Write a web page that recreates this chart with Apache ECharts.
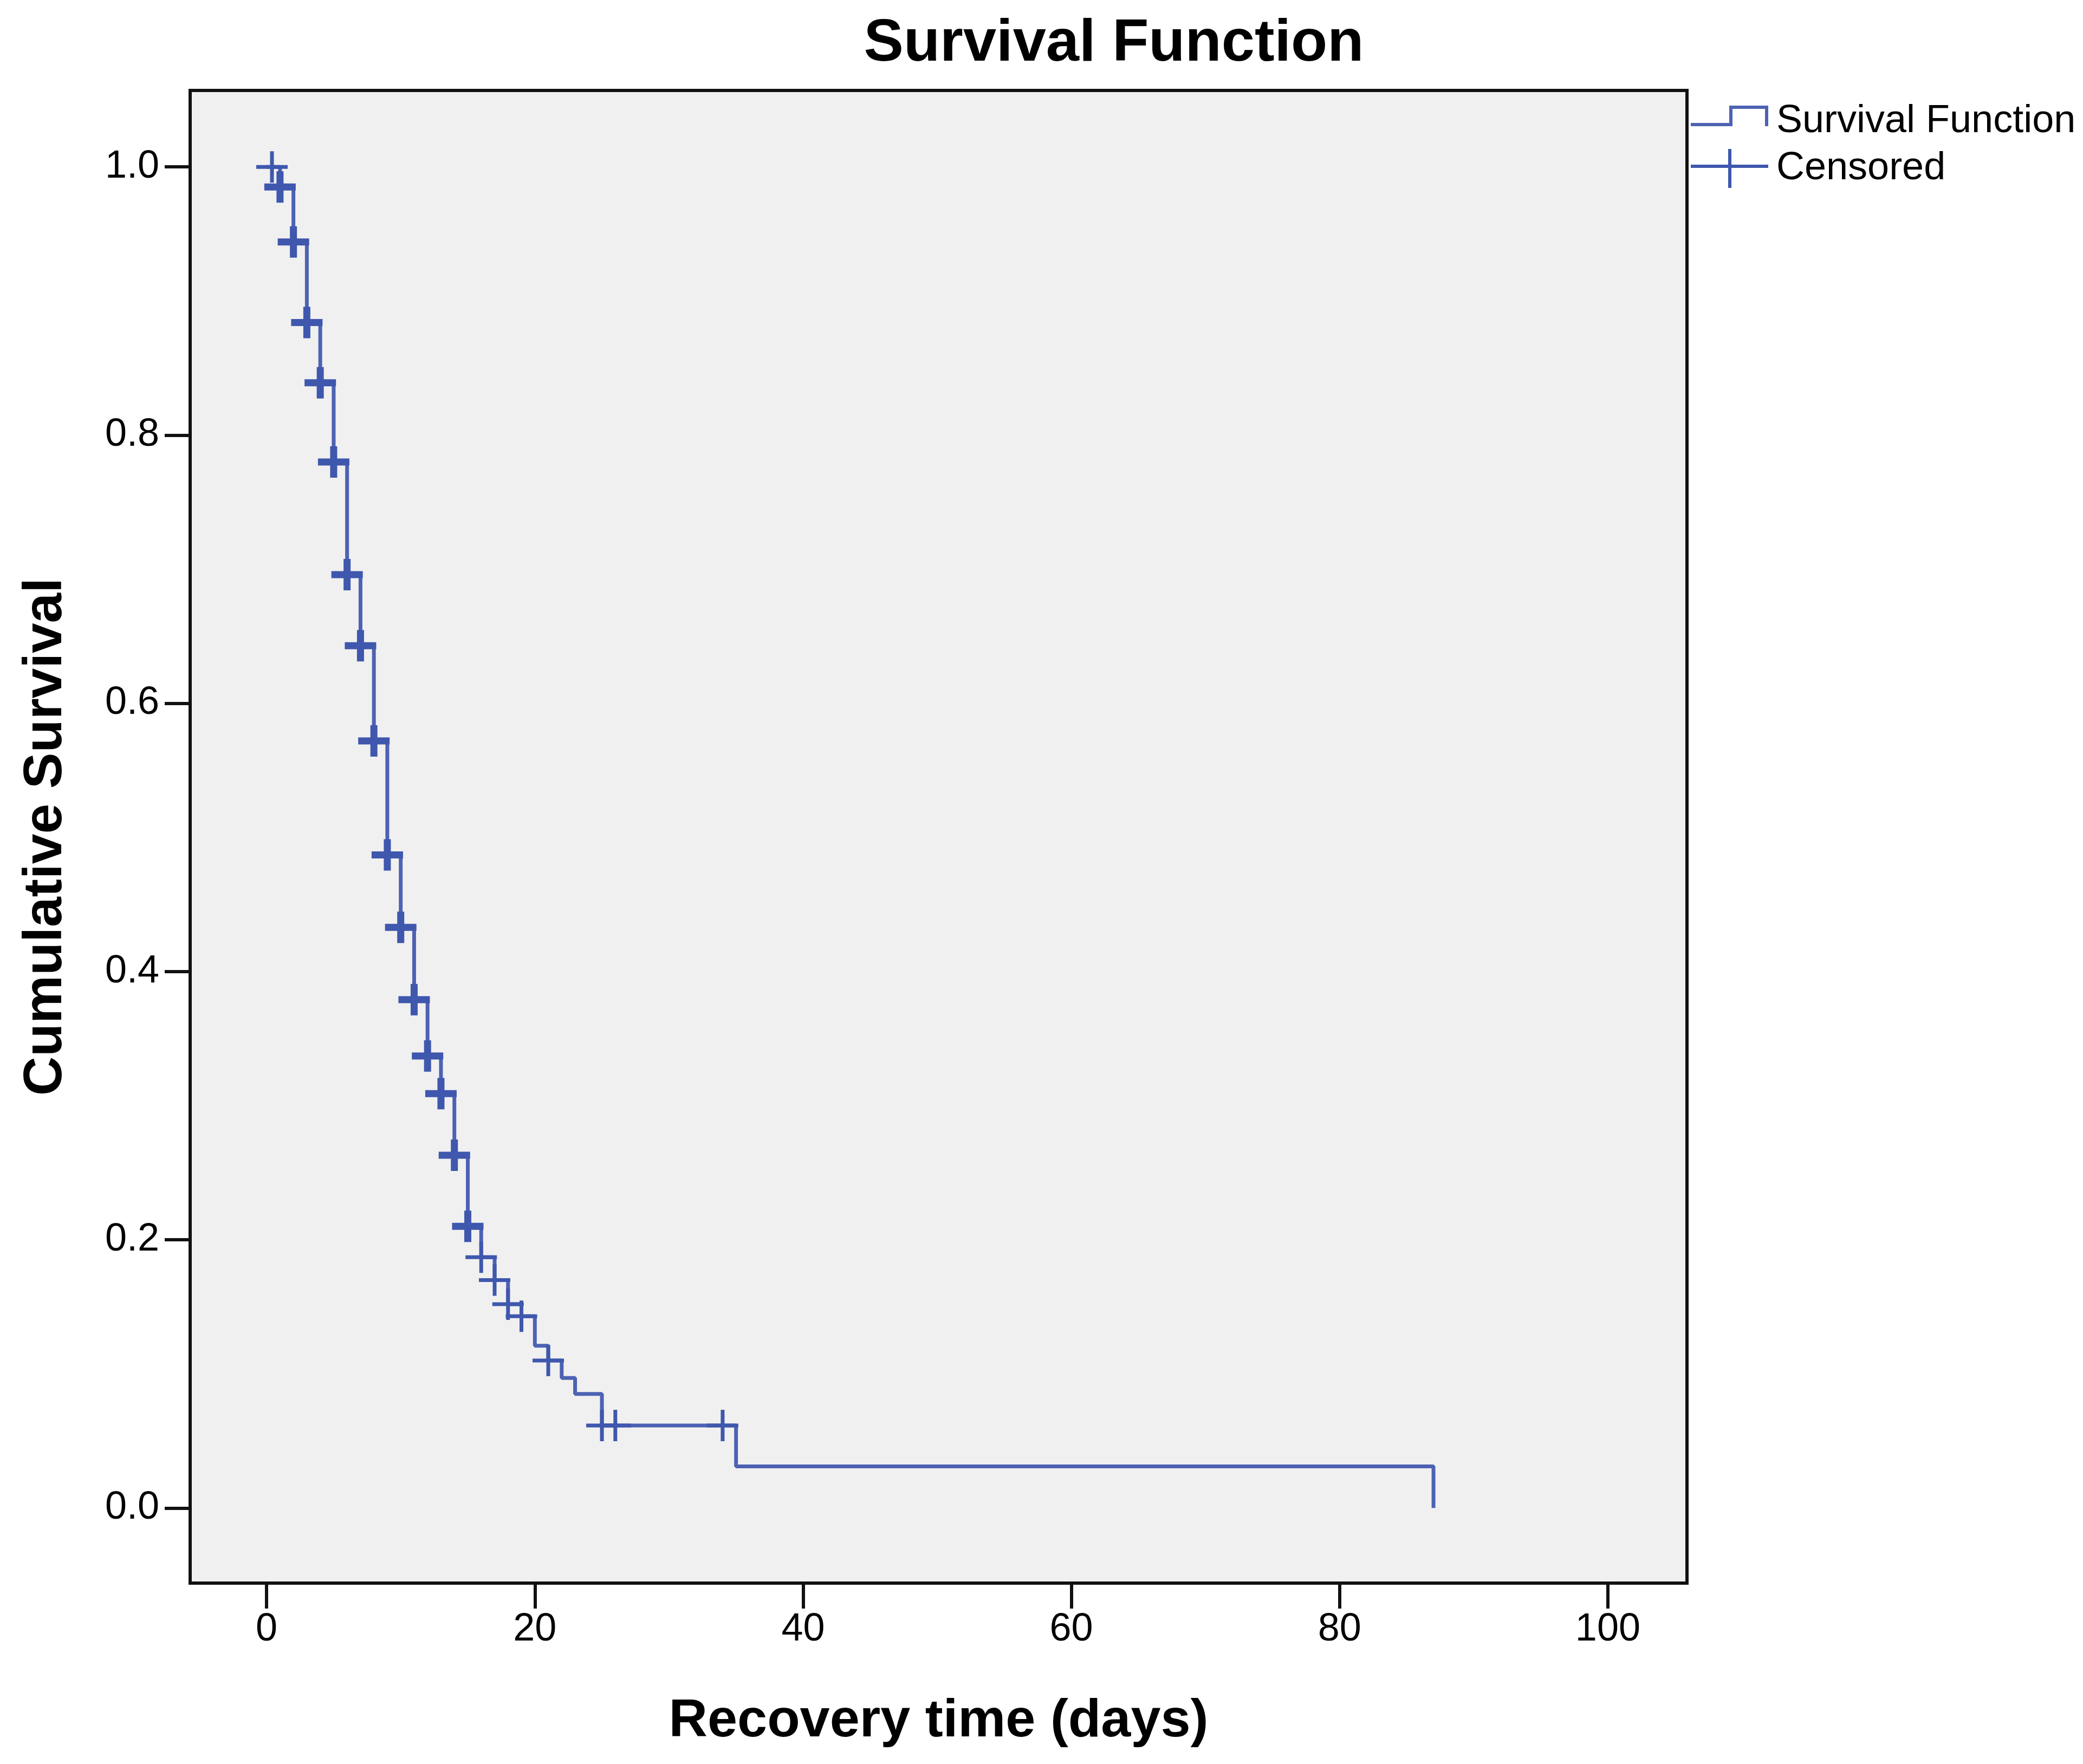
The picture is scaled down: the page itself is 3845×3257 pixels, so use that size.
<!DOCTYPE html>
<html>
<head>
<meta charset="utf-8">
<script src="https://cdn.jsdelivr.net/npm/echarts@6/dist/echarts.min.js"></script>
<style>
html,body{margin:0;padding:0;background:#ffffff;}
#chart{width:3845px;height:3257px;}
</style>
</head>
<body>
<div id="chart"></div>
<script>
// ---- data ----
const stepTimes    = [0, 1, 2, 3, 4, 5, 6, 7, 8, 9, 10, 11, 12, 13, 14, 15, 16, 17, 18, 19, 20, 21, 22, 23, 25, 35, 87];
const stepSurvival = [1.0, 0.985, 0.944, 0.884, 0.839, 0.780, 0.696, 0.643, 0.572, 0.487, 0.433, 0.379, 0.337, 0.309, 0.263, 0.210, 0.187, 0.170, 0.152, 0.143, 0.121, 0.110, 0.097, 0.085, 0.0615, 0.031, 0.0];

const censorTimes    = [0.4, 1, 2, 3, 4, 5, 6, 7, 8, 9, 10, 11, 12, 13, 14, 15, 16, 17, 18, 19, 21, 25, 26, 34];
const censorSurvival = [1.0, 0.985, 0.944, 0.884, 0.839, 0.780, 0.696, 0.643, 0.572, 0.487, 0.433, 0.379, 0.337, 0.309, 0.263, 0.210, 0.187, 0.170, 0.152, 0.143, 0.110, 0.0615, 0.0615, 0.0615];
const censorHeavy    = [0, 1, 1, 1, 1, 1, 1, 1, 1, 1, 1, 1, 1, 1, 1, 1, 0, 0, 0, 0, 0, 0, 0, 0];

const xTicks = [0, 20, 40, 60, 80, 100];
const yTicks = [0.0, 0.2, 0.4, 0.6, 0.8, 1.0];

const seriesNames = ['Survival Function', 'Censored'];
const chartTitle = 'Survival Function';
const xAxisTitle = 'Recovery time (days)';
const yAxisTitle = 'Cumulative Survival';

// ---- symbols ----
const PLUS_THIN  = 'path://M25.5,0 H32.5 V25.5 H58 V32.5 H32.5 V58 H25.5 V32.5 H0 V25.5 H25.5 Z';
const PLUS_HEAVY = 'path://M22.5,0 H35.5 V22.5 H58 V35.5 H35.5 V58 H22.5 V35.5 H0 V22.5 H22.5 Z';
const LEG_STEP   = 'path://M0,0 L0,0 M143,72 L143,72 M0,39 H77 V45 H0 Z M71,7 H77 V45 H71 Z M71,7 H143 V13 H71 Z M137,7 H143 V45 H137 Z';
const LEG_CROSS  = 'path://M0,0 L0,0 M143,72 L143,72 M0,29 H143 V35 H0 Z M69,0 H75 V72 H69 Z';

const FONT = "'Liberation Sans', Arial, Helvetica, sans-serif";

const stepData = stepTimes.map((t, i) => [t, stepSurvival[i]]);
const censorData = censorTimes.map((t, i) => ({
  value: [t, censorSurvival[i]],
  symbol: censorHeavy[i] ? PLUS_HEAVY : PLUS_THIN
}));

const chart = echarts.init(document.getElementById('chart'), null, {renderer: 'canvas'});

const option = {
  backgroundColor: '#ffffff',
  animation: false,
  title: {
    text: chartTitle,
    left: 2056,
    top: 27,
    textAlign: 'center',
    padding: 0,
    textStyle: {fontFamily: FONT, fontSize: 110, fontWeight: 'bold', color: '#000000'}
  },
  legend: {
    orient: 'vertical',
    left: 3121,
    top: 188,
    padding: 0,
    itemWidth: 143,
    itemHeight: 72,
    itemGap: 15,
    selectedMode: false,
    itemStyle: {borderWidth: 0},
    textStyle: {fontFamily: FONT, fontSize: 72, color: '#000000', padding: [0, 0, 0, 10]},
    data: [
      {name: seriesNames[0], icon: LEG_STEP},
      {name: seriesNames[1], icon: LEG_CROSS}
    ]
  },
  grid: {
    left: 351,
    right: 731,
    top: 167,
    bottom: 334,
    show: true,
    backgroundColor: '#f0f0f0',
    borderColor: '#111111',
    borderWidth: 6,
    containLabel: false
  },
  xAxis: {
    type: 'value',
    min: -5.7,
    max: 105.9,
    name: xAxisTitle,
    nameLocation: 'middle',
    nameGap: 206,
    nameTextStyle: {fontFamily: FONT, fontSize: 99, fontWeight: 'bold', color: '#000000'},
    axisLine: {show: false, onZero: false},
    splitLine: {show: false},
    axisTick: {show: true, inside: false, length: 47, customValues: xTicks, lineStyle: {color: '#111111', width: 6}},
    axisLabel: {
      show: true, customValues: xTicks, margin: 50,
      fontFamily: FONT, fontSize: 72, color: '#000000',
      formatter: v => String(Math.round(v))
    }
  },
  yAxis: {
    type: 'value',
    min: -0.056,
    max: 1.057,
    name: yAxisTitle,
    nameLocation: 'middle',
    nameGap: 216,
    nameRotate: 90,
    nameTextStyle: {fontFamily: FONT, fontSize: 100, fontWeight: 'bold', color: '#000000'},
    axisLine: {show: false, onZero: false},
    splitLine: {show: false},
    axisTick: {show: true, inside: false, length: 47, customValues: yTicks, lineStyle: {color: '#111111', width: 6}},
    axisLabel: {
      show: true, customValues: yTicks, margin: 57,
      fontFamily: FONT, fontSize: 72, color: '#000000',
      padding: [20, 0, 0, 0],
      formatter: v => v.toFixed(1)
    }
  },
  series: [
    {
      name: seriesNames[0],
      type: 'line',
      step: 'end',
      data: stepData,
      showSymbol: false,
      symbol: 'none',
      color: '#4d62b3',
      itemStyle: {color: '#4d62b3'},
      lineStyle: {color: '#4d62b3', width: 7},
      z: 2
    },
    {
      name: seriesNames[1],
      type: 'scatter',
      data: censorData,
      symbolSize: 58,
      symbolKeepAspect: true,
      itemStyle: {color: '#3f57ad', opacity: 1},
      z: 3
    }
  ]
};

chart.setOption(option);
</script>
</body>
</html>
